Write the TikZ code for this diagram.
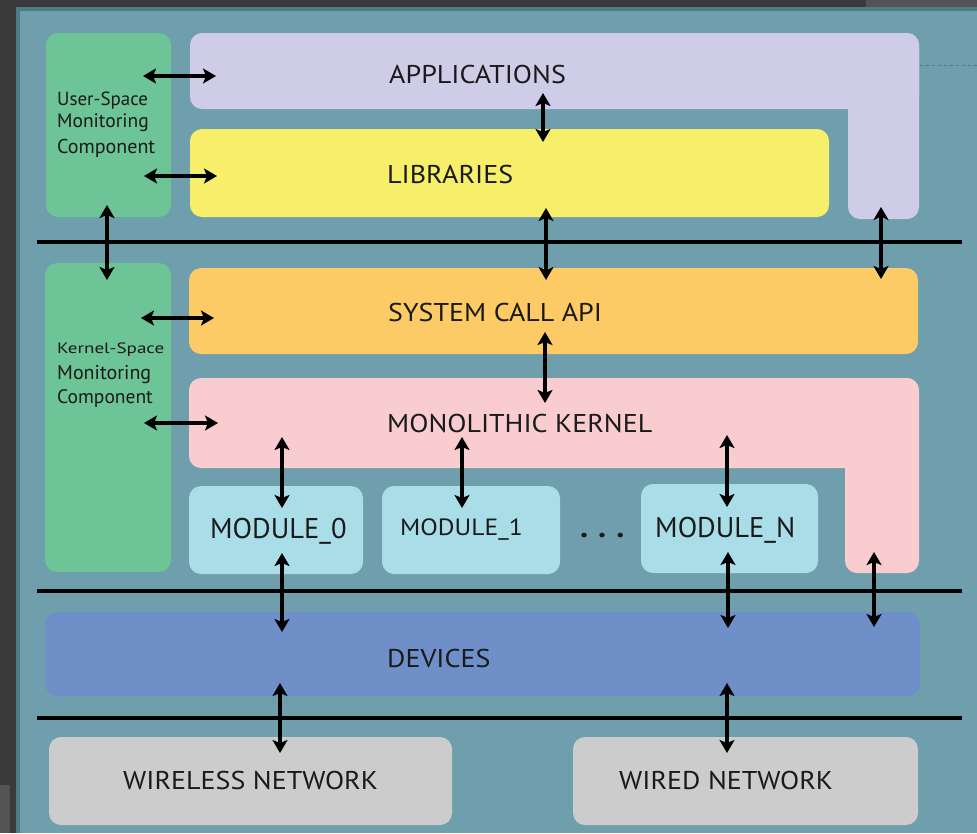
\documentclass[tikz,border=0pt]{standalone}
\usepackage{fontspec}
\setmainfont{PT Sans}[FakeStretch=1.09]
\newfontfamily\modfont{PT Sans}
\usetikzlibrary{arrows.meta}
\definecolor{bgdark}{HTML}{3A3A3A}
\definecolor{bgtex}{HTML}{545454}
\definecolor{tealedge}{HTML}{4E7B88}
\definecolor{tealbg}{HTML}{6F9FAD}
\definecolor{cgreen}{HTML}{6CC497}
\definecolor{cpurple}{HTML}{CFCCE8}
\definecolor{cyellow}{HTML}{F7EE6A}
\definecolor{corange}{HTML}{FCCB66}
\definecolor{cpink}{HTML}{F9CCCF}
\definecolor{cmod}{HTML}{A9DDE8}
\definecolor{cdev}{HTML}{6F8FC8}
\definecolor{cnet}{HTML}{CCCCCC}
\definecolor{ink}{HTML}{1A1A1A}
\tikzset{
  box/.style={draw=none, rounded corners=12pt, minimum width=#1, inner sep=0pt, outer sep=0pt},
  lbl/.style={anchor=base west, inner sep=0pt, text=ink, font=\fontsize{25.7}{28}\selectfont},
  modlbl/.style={anchor=base west, inner sep=0pt, text=ink, font=\modfont\fontsize{28.5}{30}\selectfont},
  small/.style={anchor=base west, inner sep=0pt, text=ink},
  tip/.tip={Stealth[length=13pt,width=15pt,inset=3pt]},
  dbl/.style={tip-tip, line width=3.3pt, black},
  sep/.style={line width=4pt, black}
}
\begin{document}
\begin{tikzpicture}[x=1pt,y=-1pt]
\useasboundingbox (0,0) rectangle (977,833);
\fill[bgdark] (0,0) rectangle (977,833);
\fill[bgtex] (866,0) rectangle (977,7);
\fill[bgtex] (0,785) rectangle (10,833);
\fill[tealedge] (16,7) rectangle (977,833);
\fill[tealbg] (20,11) rectangle (977,833);
\draw[tealedge, line width=0.8pt, dashed] (920,65) -- (977,65);
% boxes
\node[box=125pt, minimum height=184pt, fill=cgreen] (us) at (108.5,125) {};
\node[box=729pt, minimum height=76pt, fill=cpurple] (apps) at (554.5,71) {};
\node[box=71pt, minimum height=186pt, fill=cpurple] (appscol) at (883.5,126) {};
\node[box=639pt, minimum height=88pt, fill=cyellow] (libs) at (509.5,173) {};
\node[box=126pt, minimum height=309pt, fill=cgreen] (ks) at (108,417.5) {};
\node[box=729pt, minimum height=86pt, fill=corange] (sys) at (553.5,311) {};
\node[box=729pt, minimum height=90pt, fill=cpink] (mono) at (553.5,423) {};
\node[box=74pt, minimum height=195pt, fill=cpink] (monocol) at (882,475.5) {};
\node[box=174pt, minimum height=88pt, fill=cmod] (m0) at (276,530) {};
\node[box=178pt, minimum height=88pt, fill=cmod] (m1) at (471,530) {};
\node[box=177pt, minimum height=89pt, fill=cmod] (mN) at (729.5,528.5) {};
\node[box=875pt, minimum height=84pt, fill=cdev] (dev) at (482.5,654) {};
\node[box=403pt, minimum height=88pt, fill=cnet] (wl) at (250.5,781) {};
\node[box=345pt, minimum height=88pt, fill=cnet] (wd) at (745.5,781) {};
% separators
\draw[sep] (37,242) -- (962,242);
\draw[sep] (37,591) -- (962,591);
\draw[sep] (37,718) -- (962,718);
% labels
\node[lbl] (tapps) at (389,83) {APPLICATIONS};
\node[lbl] (tlibs) at (387,183) {LIBRARIES};
\node[lbl] (tsys) at (388,321) {SYSTEM CALL API};
\node[lbl] (tmono) at (387,432) {MONOLITHIC KERNEL};
\node[modlbl] (tm0) at (210,538) {MODULE\_0};
\node[lbl, font=\fontsize{23.5}{26}\selectfont] (tm1) at (400,535) {MODULE\_1};
\node[modlbl] (tmN) at (655,537) {MODULE\_N};
\node[lbl, font=\fontsize{30}{30}\bfseries] (tdots) at (580,537) {.\,\,.\,\,.};
\node[lbl] (tdev) at (387,667) {DEVICES};
\node[lbl] (twl) at (123,789) {WIRELESS NETWORK};
\node[lbl] (twd) at (619,789) {WIRED NETWORK};
\node[small, font=\modfont\fontsize{19}{20}\selectfont] (u1) at (57,105) {User-Space};
\node[small, font=\modfont\fontsize{19.5}{20}\selectfont] (u2) at (57,127) {Monitoring};
\node[small, font=\modfont\fontsize{20}{20}\selectfont] (u3) at (57,153) {Component};
\node[small, font=\modfont\fontsize{15}{16}\selectfont] (k1) at (57,353) {\scalebox{1.27}[1]{Kernel-Space}};
\node[small, font=\modfont\fontsize{20}{24}\selectfont] (k2) at (57,379) {Monitoring};
\node[small, font=\modfont\fontsize{19.5}{20}\selectfont] (k3) at (57,403) {Component};
% arrow positions
\coordinate (r1) at (0,76);
\coordinate (r2) at (0,176);
\coordinate (r7) at (0,318);
\coordinate (r8) at (0,423);
\coordinate (c3) at (543,0);
\coordinate (c4) at (546,0);
\coordinate (c5) at (881,0);
\coordinate (c6) at (107,0);
\coordinate (c9) at (545,0);
\coordinate (c10) at (282,0);
\coordinate (c11) at (462,0);
\coordinate (c12) at (727,0);
\coordinate (c14) at (728,0);
\coordinate (c15) at (874,0);
\coordinate (c16) at (280,0);
% arrows
\draw[dbl, shorten <=-28pt, shorten >=-26pt] (us.east |- r1) -- (apps.west |- r1);
\draw[dbl, shorten <=-27pt, shorten >=-27pt] (us.east |- r2) -- (libs.west |- r2);
\draw[dbl, shorten <=-16pt, shorten >=-13pt] (apps.south -| c3) -- (libs.north -| c3);
\draw[dbl, shorten <=-9pt, shorten >=-12pt] (libs.south -| c4) -- (sys.north -| c4);
\draw[dbl, shorten <=-12pt, shorten >=-11pt] (appscol.south -| c5) -- (sys.north -| c5);
\draw[dbl, shorten <=-12pt, shorten >=-17pt] (us.south -| c6) -- (ks.north -| c6);
\draw[dbl, shorten <=-30pt, shorten >=-25pt] (ks.east |- r7) -- (sys.west |- r7);
\draw[dbl, shorten <=-27pt, shorten >=-29pt] (ks.east |- r8) -- (mono.west |- r8);
\draw[dbl, shorten <=-22pt, shorten >=-25pt] (sys.south -| c9) -- (mono.north -| c9);
\draw[dbl, shorten <=-31pt, shorten >=-22pt] (mono.south -| c10) -- (m0.north -| c10);
\draw[dbl, shorten <=-31pt, shorten >=-22pt] (mono.south -| c11) -- (m1.north -| c11);
\draw[dbl, shorten <=-33pt, shorten >=-23pt] (mono.south -| c12) -- (mN.north -| c12);
\draw[dbl, shorten <=-21pt, shorten >=-20pt] (m0.south -| c10) -- (dev.north -| c10);
\draw[dbl, shorten <=-21pt, shorten >=-16pt] (mN.south -| c14) -- (dev.north -| c14);
\draw[dbl, shorten <=-21pt, shorten >=-15pt] (monocol.south -| c15) -- (dev.north -| c15);
\draw[dbl, shorten <=-13pt, shorten >=-16pt] (dev.south -| c16) -- (wl.north -| c16);
\draw[dbl, shorten <=-13pt, shorten >=-16pt] (dev.south -| c12) -- (wd.north -| c12);
\end{tikzpicture}
\end{document}
